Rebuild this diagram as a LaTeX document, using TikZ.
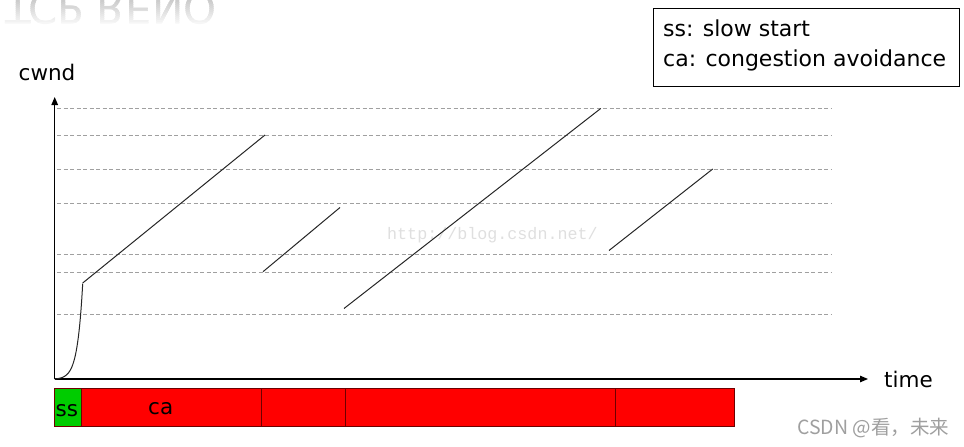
\documentclass[tikz,border=0pt]{standalone}
\usepackage{fontspec}
\newfontfamily\sansf{DejaVu Sans}
\newfontfamily\monof{Liberation Mono}
\newfontfamily\cjk{Noto Sans CJK SC}
\usetikzlibrary{arrows.meta}
\definecolor{barred}{RGB}{255,0,0}
\definecolor{bargreen}{RGB}{0,204,0}
\definecolor{barline}{RGB}{110,0,0}
\definecolor{gridgray}{RGB}{160,160,160}
\tikzset{
  lbl/.style={anchor=base west, inner sep=0pt, font=\sansf\fontsize{21.5}{26}\selectfont},
  grid/.style={gridgray, line width=0.8pt, dash pattern=on 4pt off 2.5pt},
  axis/.style={black, line width=1.2pt, -{Triangle[length=8pt,width=6.5pt]}},
  cw/.style={black!85, line width=1pt},
  redbar/.style={fill=barred, draw=barline, line width=0.8pt},
  greenbar/.style={fill=bargreen, draw=barline, line width=0.8pt}
}
\begin{document}
\begin{tikzpicture}[x=1pt,y=-1pt]
\useasboundingbox (0,0) rectangle (964,447);
% faded reflected title (cut off at top)
\foreach \i in {0,...,11}{
  \pgfmathtruncatemacro\g{40-3*\i}
  \begin{scope}
    \clip (0,2*\i) rectangle (300,2*\i+2);
    \begin{scope}[shift={(5,-6.5)}, yscale=-1]
      \node[anchor=base west, inner sep=0pt, transform shape, text=gray!\g, font=\sansf\fontsize{42}{48}\selectfont] (title\i) at (0,0) {TCP RENO};
    \end{scope}
  \end{scope}
}
% dashed levels
\foreach \yy/\n in {108.5/a,135/b,169.3/c,203.3/d,254.3/e,272/f,314.3/g}{
  \coordinate (gl\n) at (57,\yy);
  \coordinate (gr\n) at (831,\yy);
  \draw[grid] (gl\n) -- (gr\n);
}
% watermark
\node[anchor=base west, inner sep=0pt, text=gray!25, font=\monof\fontsize{16.7}{20}\selectfont] (wm) at (387,239) {http://blog.csdn.net/};
% axes
\coordinate (O) at (54.7,379);
\coordinate (ytip) at (54.7,97);
\coordinate (xtip) at (868,379);
\draw[axis] (O) -- (ytip);
\draw[axis] (O) -- (xtip);
\node[lbl] (cwnd) at (18.5,80.7) {cwnd};
\node[lbl] (time) at (884,387) {time};
% slow start curve
\draw[cw] plot[domain=0:28, samples=60, smooth] ({54.7+\x},{379-0.51*(exp(0.187*\x)-1)});
% congestion avoidance lines
\coordinate (a1) at (82.7,283);  \coordinate (b1) at (265,135);
\coordinate (a2) at (263,271.7); \coordinate (b2) at (340,207.5);
\coordinate (a3) at (344,308.5); \coordinate (b3) at (600.7,108.5);
\coordinate (a4) at (609,250.5); \coordinate (b4) at (712.7,169);
\draw[cw] (a1) -- (b1);
\draw[cw] (a2) -- (b2);
\draw[cw] (a3) -- (b3);
\draw[cw] (a4) -- (b4);
% phase bars
\draw[greenbar] (54.5,388.3) rectangle (81.5,426.7);
\draw[redbar] (81.5,388.3) rectangle (261,426.7);
\draw[redbar] (261,388.3) rectangle (345,426.7);
\draw[redbar] (345,388.3) rectangle (615.5,426.7);
\draw[redbar] (615.5,388.3) rectangle (734.5,426.7);
\node[lbl] (ss) at (55.5,416.5) {ss};
\node[lbl] (ca) at (148,414) {ca};
% legend
\draw[black, line width=0.8pt] (653.5,8) rectangle (959,86);
\node[lbl, font=\sansf\fontsize{22}{26}\selectfont] (leg1) at (663,36) {ss: slow start};
\node[lbl, font=\sansf\fontsize{22}{26}\selectfont] (leg2) at (663,66.7) {ca: congestion avoidance};
% credit
\node[anchor=base west, inner sep=0pt, text=gray!75, font=\cjk\fontsize{19.5}{23}\selectfont] (credit) at (797,434) {CSDN @看，未来};
\end{tikzpicture}
\end{document}
